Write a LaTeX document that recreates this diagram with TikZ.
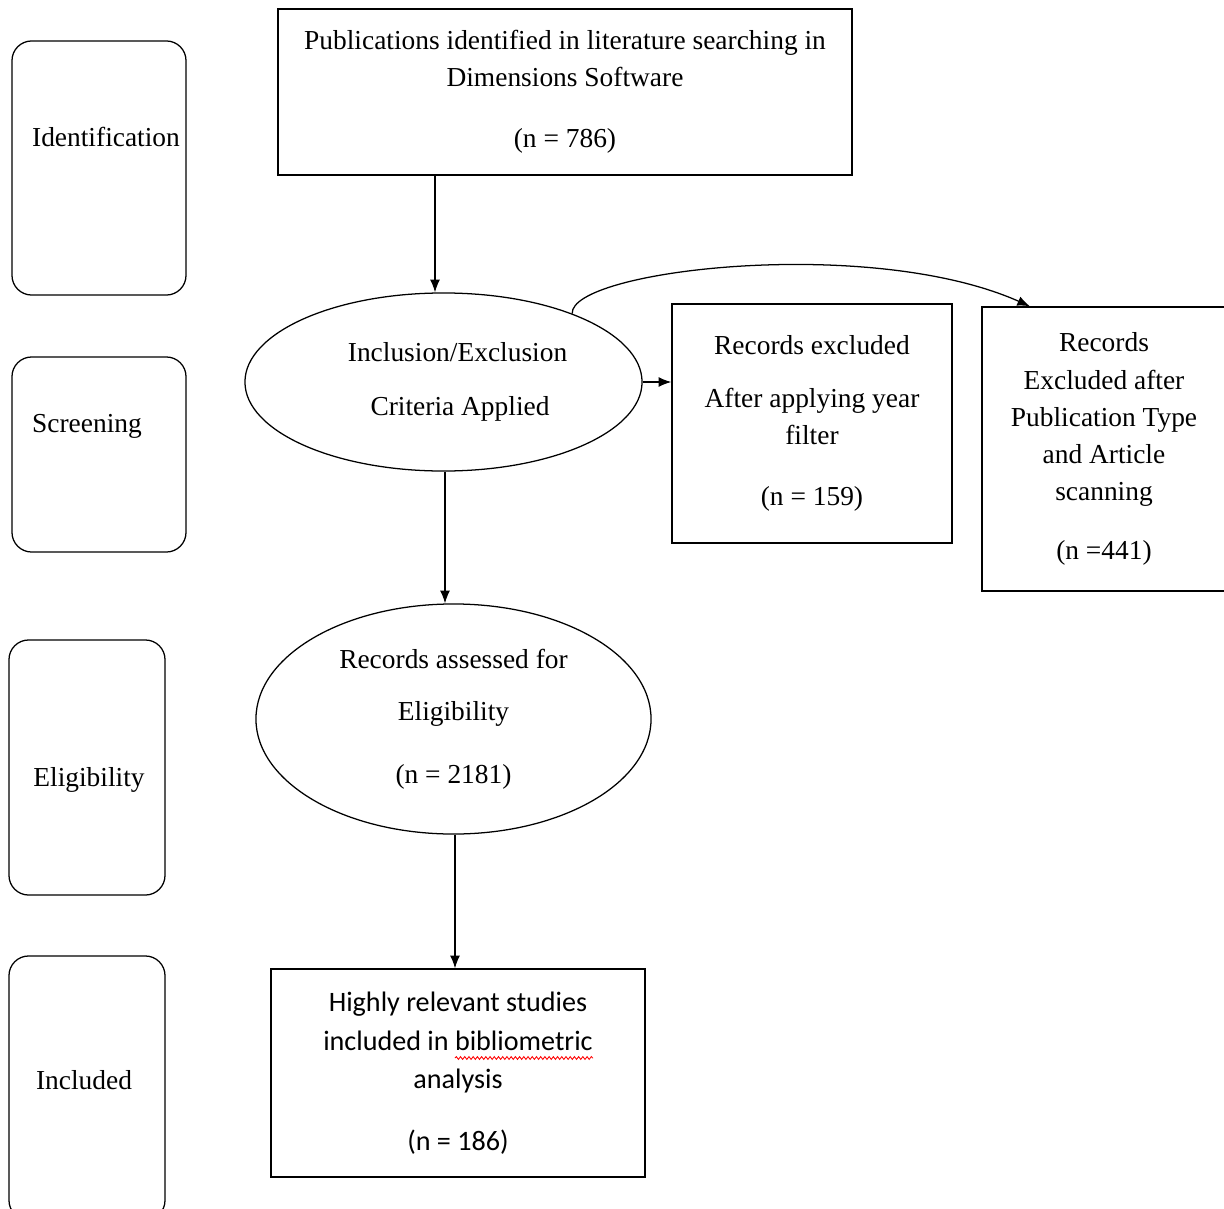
\documentclass[tikz,border=0pt]{standalone}
\usepackage{fontspec}
\setmainfont{Liberation Serif}
\newfontfamily\calfont{Carlito}
\usetikzlibrary{arrows.meta,shapes.geometric,decorations.pathmorphing,calc}
\begin{document}
\begin{tikzpicture}[x=0.025cm,y=-0.025cm,line width=0.9pt,
  >={Latex[length=9pt,width=7pt]},
  box/.style={draw,align=center,font=\fontsize{19.5}{26.5}\selectfont},
  oval/.style={draw,ellipse,align=center,font=\fontsize{19.5}{26.5}\selectfont},
  stage/.style={draw,rounded corners=14pt,font=\fontsize{19.5}{26.5}\selectfont}]
\useasboundingbox (0,0) rectangle (1224,1209);
\node[stage,minimum width=4.35cm,minimum height=6.35cm] (ident) at (99,168) {};
\node[stage,minimum width=4.35cm,minimum height=4.875cm] (scr) at (99,454.5) {};
\node[stage,minimum width=3.9cm,minimum height=6.375cm] (elig) at (87,767.5) {};
\node[stage,minimum width=3.9cm,minimum height=6.6cm] (incl) at (87,1088) {};
\node[font=\fontsize{19.5}{26.5}\selectfont] at (106,137) {Identification};
\node[font=\fontsize{19.5}{26.5}\selectfont] at (87,426) {Screening};
\node[font=\fontsize{19.5}{26.5}\selectfont] at (89,780) {Eligibility};
\node[font=\fontsize{19.5}{26.5}\selectfont] at (84,1080) {Included};
\node[box,minimum width=14.35cm,minimum height=4.15cm] (pub) at (565,92)
  {Publications identified in literature searching in\\ Dimensions Software\\[17pt] (n = 786)};
\node[oval,minimum width=9.925cm,minimum height=4.45cm,inner sep=0pt] (crit) at (443.5,382)
  {\hspace*{20pt}Inclusion/Exclusion\\[12pt] \hspace*{23.5pt}Criteria Applied};
\node[box,minimum width=7cm,minimum height=5.975cm] (year) at (812,423.5)
  {Records excluded\\[11pt] After applying year\\ filter\\[17pt] (n = 159)};
\node[box,minimum width=6.1cm,minimum height=7.1cm] (type) at (1104,449)
  {Records\\ Excluded after\\ Publication Type\\ and Article\\ scanning\\[15pt] (n =441)};
\node[oval,minimum width=9.875cm,minimum height=5.75cm,inner sep=0pt] (assess) at (453.5,719)
  {Records assessed for\\[11pt] Eligibility\\[18pt] (n = 2181)};
\node[box,minimum width=9.35cm,minimum height=5.2cm,font=\calfont\fontsize{20}{27.5}\selectfont] (study) at (458,1073)
  {Highly relevant studies\\ included in bibliometric\\ analysis\\[16pt] (n = 186)};
\draw[red,line width=0.6pt,decorate,decoration={snake,amplitude=1pt,segment length=3pt}] (455,1058) -- (593,1058);
\draw[->] (pub.south -| 435,0) -- (crit.north -| 435,0);
\draw[->] (crit.south -| 445,0) -- (assess.north -| 445,0);
\draw[->] (assess.south -| 455,0) -- (study.north -| 455,0);
\draw[->] (crit.east) -- (crit.east -| year.west);
\draw[->] (crit.28) .. controls (570,270) and (870,235) .. (type.north -| 1030,0);
\end{tikzpicture}
\end{document}
